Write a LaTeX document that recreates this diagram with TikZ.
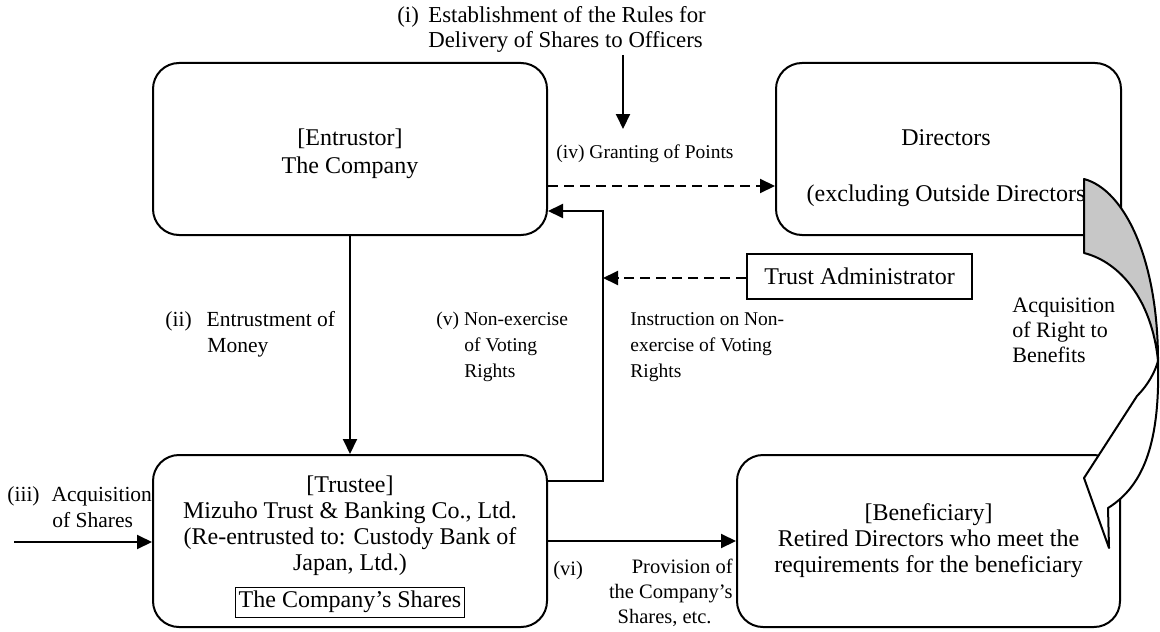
\documentclass[tikz,border=0pt]{standalone}
\usepackage{fontspec}
\setmainfont{Liberation Serif}
\usetikzlibrary{positioning, arrows.meta, calc}
\newcommand{\boxfont}{\fontsize{12}{13}\selectfont}
\newcommand{\lblfont}{\fontsize{10.75}{13}\selectfont}
\newcommand{\smlfont}{\fontsize{9.75}{13}\selectfont}
\tikzset{
  party/.style={draw, line width=1pt, rounded corners=13pt, minimum height=86pt, align=center, font=\boxfont},
  txt/.style={align=center, font=\boxfont, inner sep=0pt},
  lbl/.style={align=left, font=\lblfont, inner sep=0pt},
  flow/.style={line width=1pt, -{Triangle[length=7.5pt,width=7pt]}},
  dflow/.style={flow, dash pattern=on 5pt off 3pt},
}

\begin{document}
\begin{tikzpicture}[x=0.5pt, y=-0.5pt]
    \useasboundingbox (0,0) rectangle (1160,631);

    % Beteiligte
    \node[party, minimum width=197pt] (entrustor) at (350,149) {};
    \node[txt] (enttext) at (350,154) {[Entrustor]\\[1pt]The Company};
    \node[party, minimum width=172.5pt] (directors) at (948.5,149) {};
    \node[txt] (dirtext) at (946,168) {Directors\\[15pt](excluding Outside Directors};
    \node[party, minimum width=197pt] (trustee) at (350,541) {};
    \node[txt] (trtext) at (350,526) {[Trustee]\\Mizuho Trust \& Banking Co., Ltd.\\(Re-entrusted to: Custody Bank of\\Japan, Ltd.)};
    \node[draw, line width=0.5pt, inner xsep=1.5pt, inner ysep=0pt, minimum height=15pt, font=\boxfont] (shares) at (350,602) {The Company’s Shares};
    \node[party, minimum width=191.5pt] (beneficiary) at (928.5,541) {[Beneficiary]\\Retired Directors who meet the\\requirements for the beneficiary};
    \node[draw, line width=1pt, minimum width=112.5pt, minimum height=22.5pt, font=\boxfont] (admin) at (859.5,276.5) {Trust Administrator};

    % Pfeile
    \coordinate (rulestop) at (623,55);
    \coordinate (rulesend) at (623,129);
    \draw[flow] (rulestop) -- (rulesend);
    \draw[dflow] ($(entrustor.east)+(0,37)$) -- ($(directors.west)+(0,37)$);
    \draw[flow] (entrustor.south) -- (trustee.north);
    \coordinate (votecol) at (603,211);
    \draw[flow] ($(trustee.east)+(0,-60)$) -| (votecol) -- ($(entrustor.east)+(0,62)$);
    \draw[dflow] ($(admin.west)+(0,1.5)$) -- ($(admin.west -| votecol)+(0,1.5)$);
    \coordinate (acqstart) at (14,542);
    \draw[flow] (acqstart) -- (acqstart -| trustee.west);
    \draw[flow] (trustee.east) -- (beneficiary.west);

    % Beschriftungen
    \node[lbl, anchor=west, font=\fontsize{11.4}{12.5}\selectfont] (rules) at (397,29) {(i)\hspace{4.75pt}Establishment of the Rules for\\\hspace*{15.5pt}Delivery of Shares to Officers};
    \node[lbl, anchor=base, font=\smlfont] (grant) at (645,158) {(iv) Granting of Points};
    \node[lbl, anchor=west] (money) at (165,334) {(ii)\hspace{7.5pt}Entrustment of\\\hspace*{21pt}Money};
    \node[lbl, anchor=west, font=\smlfont] (vote) at (436,347) {(v) Non-exercise\\\hspace*{14pt}of Voting\\\hspace*{14pt}Rights};
    \node[lbl, anchor=west, font=\smlfont] (instr) at (630,347) {Instruction on Non-\\exercise of Voting\\Rights};
    \node[lbl, anchor=west] (acq) at (7,507) {(iii)\hspace{6pt}Acquisition\\\hspace*{22.5pt}of Shares};
    \node[lbl, anchor=west, font=\fontsize{11}{12.5}\selectfont] (right) at (1012,330) {Acquisition\\of Right to\\Benefits};
    \node[lbl, anchor=base west, font=\fontsize{10.25}{13}\selectfont] (vi) at (553,575) {(vi)};
    \node[lbl, align=right, anchor=east, font=\fontsize{10.25}{12.5}\selectfont] (prov) at (733,593) {Provision of\\the Company’s\\Shares, etc.\hspace*{10.5pt}};

    % Gebogener Pfeil
    \filldraw[fill=black!22, line width=1pt, line join=round]
      (1084,179) .. controls (1125,190) and (1158,260) .. (1158,361)
      .. controls (1152,300) and (1120,262) .. (1084,253) -- cycle;
    \filldraw[fill=white, line width=1pt, line join=round]
      (1158,361) .. controls (1160,440) and (1145,485) .. (1108,508)
      -- (1109,548) -- (1084,478) -- (1137,396)
      .. controls (1148,385) and (1155,372) .. (1158,361) -- cycle;

\end{tikzpicture}
\end{document}
